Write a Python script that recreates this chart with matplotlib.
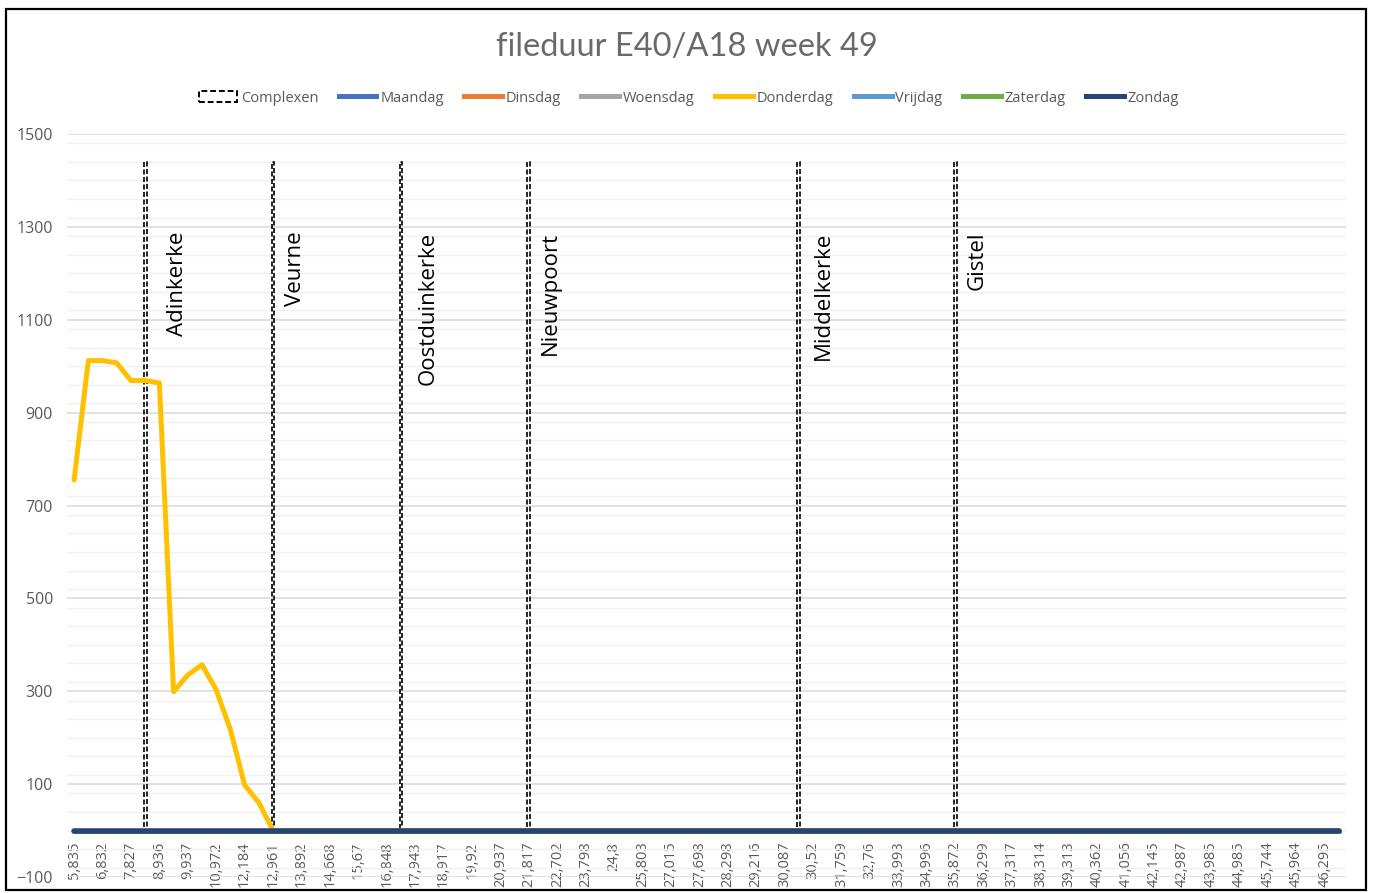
import matplotlib
matplotlib.use("Agg")
import matplotlib.pyplot as plt
from matplotlib.patches import Rectangle, Patch
from matplotlib.lines import Line2D
from matplotlib.ticker import MultipleLocator, FixedLocator

# ---------------- data ----------------
N_CAT = 90
tick_labels = ["5,835", "6,832", "7,827", "8,936", "9,937", "10,972", "12,184", "12,961",
               "13,892", "14,668", "15,67", "16,848", "17,943", "18,917", "19,92", "20,937",
               "21,817", "22,702", "23,798", "24,8", "25,803", "27,015", "27,698", "28,298",
               "29,216", "30,087", "30,52", "31,759", "32,76", "33,993", "34,996", "35,872",
               "36,299", "37,317", "38,314", "39,313", "40,362", "41,056", "42,145", "42,987",
               "43,985", "44,985", "45,744", "45,964", "46,295"]

complex_idx = [5, 14, 23, 32, 51, 62]
complex_vals = [1440, 1440, 1440, 1440, 1440, 1440]
complex_names = ["Adinkerke", "Veurne", "Oostduinkerke", "Nieuwpoort", "Middelkerke", "Gistel"]
label_offsets = [2.3, 1.55, 1.9, 1.5, 1.7, 1.55]

donderdag_head = [755, 1012, 1012, 1007, 969, 969, 964, 299, 335, 357, 303, 217, 98, 60, 0]
donderdag = donderdag_head + [0] * (N_CAT - len(donderdag_head))
maandag = [0] * N_CAT
dinsdag = [0] * N_CAT
woensdag = [0] * N_CAT
vrijdag = [0] * N_CAT
zaterdag = [0] * N_CAT
zondag = [0] * N_CAT

series = [
    ("Maandag", maandag, "#4472C4"),
    ("Dinsdag", dinsdag, "#ED7D31"),
    ("Woensdag", woensdag, "#A5A5A5"),
    ("Donderdag", donderdag, "#FFC000"),
    ("Vrijdag", vrijdag, "#5B9BD5"),
    ("Zaterdag", zaterdag, "#70AD47"),
    ("Zondag", zondag, "#264478"),
]

TXT = "#595959"
FONT = "Open Sans"

# ---------------- figure ----------------
W, H = 1373, 893
fig = plt.figure(figsize=(W / 100, H / 100), dpi=100)
ax = fig.add_axes([67 / W, 1 - 877 / H, (1346 - 67) / W, (877 - 134) / H])

for s in ["top", "right", "left"]:
    ax.spines[s].set_visible(False)
ax.spines["bottom"].set_position(("data", 0))
ax.spines["bottom"].set_visible(False)

x = list(range(N_CAT))

# complexen columns
ax.bar(complex_idx, complex_vals, width=0.2, fill=False, edgecolor="black",
       linewidth=1.2, linestyle=(0, (3, 1.5)), zorder=3)

for name, vals, col in series:
    lw = 4.0 if name == "Zondag" else 3.6
    ax.plot(x, vals, color=col, linewidth=lw, solid_capstyle="round",
            solid_joinstyle="round", zorder=4)

for i, name, off in zip(complex_idx, complex_names, label_offsets):
    ax.text(i + off, 1290, name, rotation=90, ha="center", va="top",
            fontsize=16, family=FONT, color="black", zorder=5)

ax.set_xlim(-0.5, N_CAT - 0.5)
ax.set_ylim(-100, 1500)
ax.yaxis.set_major_locator(FixedLocator([-100, 100, 300, 500, 700, 900, 1100, 1300, 1500]))
ax.yaxis.set_minor_locator(MultipleLocator(40))
ax.set_xticks(list(range(0, N_CAT, 2)))
ax.set_xticklabels(tick_labels)
ax.tick_params(axis="x", length=0, pad=8, labelrotation=90, labelsize=10.5, labelcolor=TXT)
ax.tick_params(axis="y", labelsize=11.5, labelcolor=TXT, length=0, pad=10)
ax.tick_params(axis="y", which="minor", length=0)
for lab in ax.get_yticklabels() + ax.get_xticklabels():
    lab.set_family(FONT)

ax.grid(axis="y", which="major", color="#d9d9d9", linewidth=1.1)
ax.grid(axis="y", which="minor", color="#f0f0f0", linewidth=1.0)
ax.set_axisbelow(True)

# title
fig.text(0.5, 1 - 47 / H, "fileduur E40/A18 week 49", ha="center", va="center",
         fontsize=23.5, color="#6a6a6a", family="Lato")

# legend
handles = [Patch(facecolor="none", edgecolor="black", linestyle=(0, (3, 1.5)), linewidth=1.4)]
labels = ["Complexen"]
for name, vals, col in series:
    handles.append(Line2D([], [], color=col, linewidth=3.6))
    labels.append(name)
leg = fig.legend(handles, labels, loc="center", bbox_to_anchor=(689 / W, 1 - 98 / H),
                 ncol=8, frameon=False, prop={"family": FONT, "size": 10.5},
                 handlelength=2.6, handletextpad=0.25, columnspacing=1.4,
                 handleheight=0.7)
for t in leg.get_texts():
    t.set_color(TXT)

# outer border
fig.patches.append(Rectangle((6 / W, 1 - 890 / H), (1366 - 6) / W, (890 - 9) / H,
                             transform=fig.transFigure, fill=False,
                             edgecolor="black", linewidth=1.6))

fig.savefig("out.png", dpi=100)
